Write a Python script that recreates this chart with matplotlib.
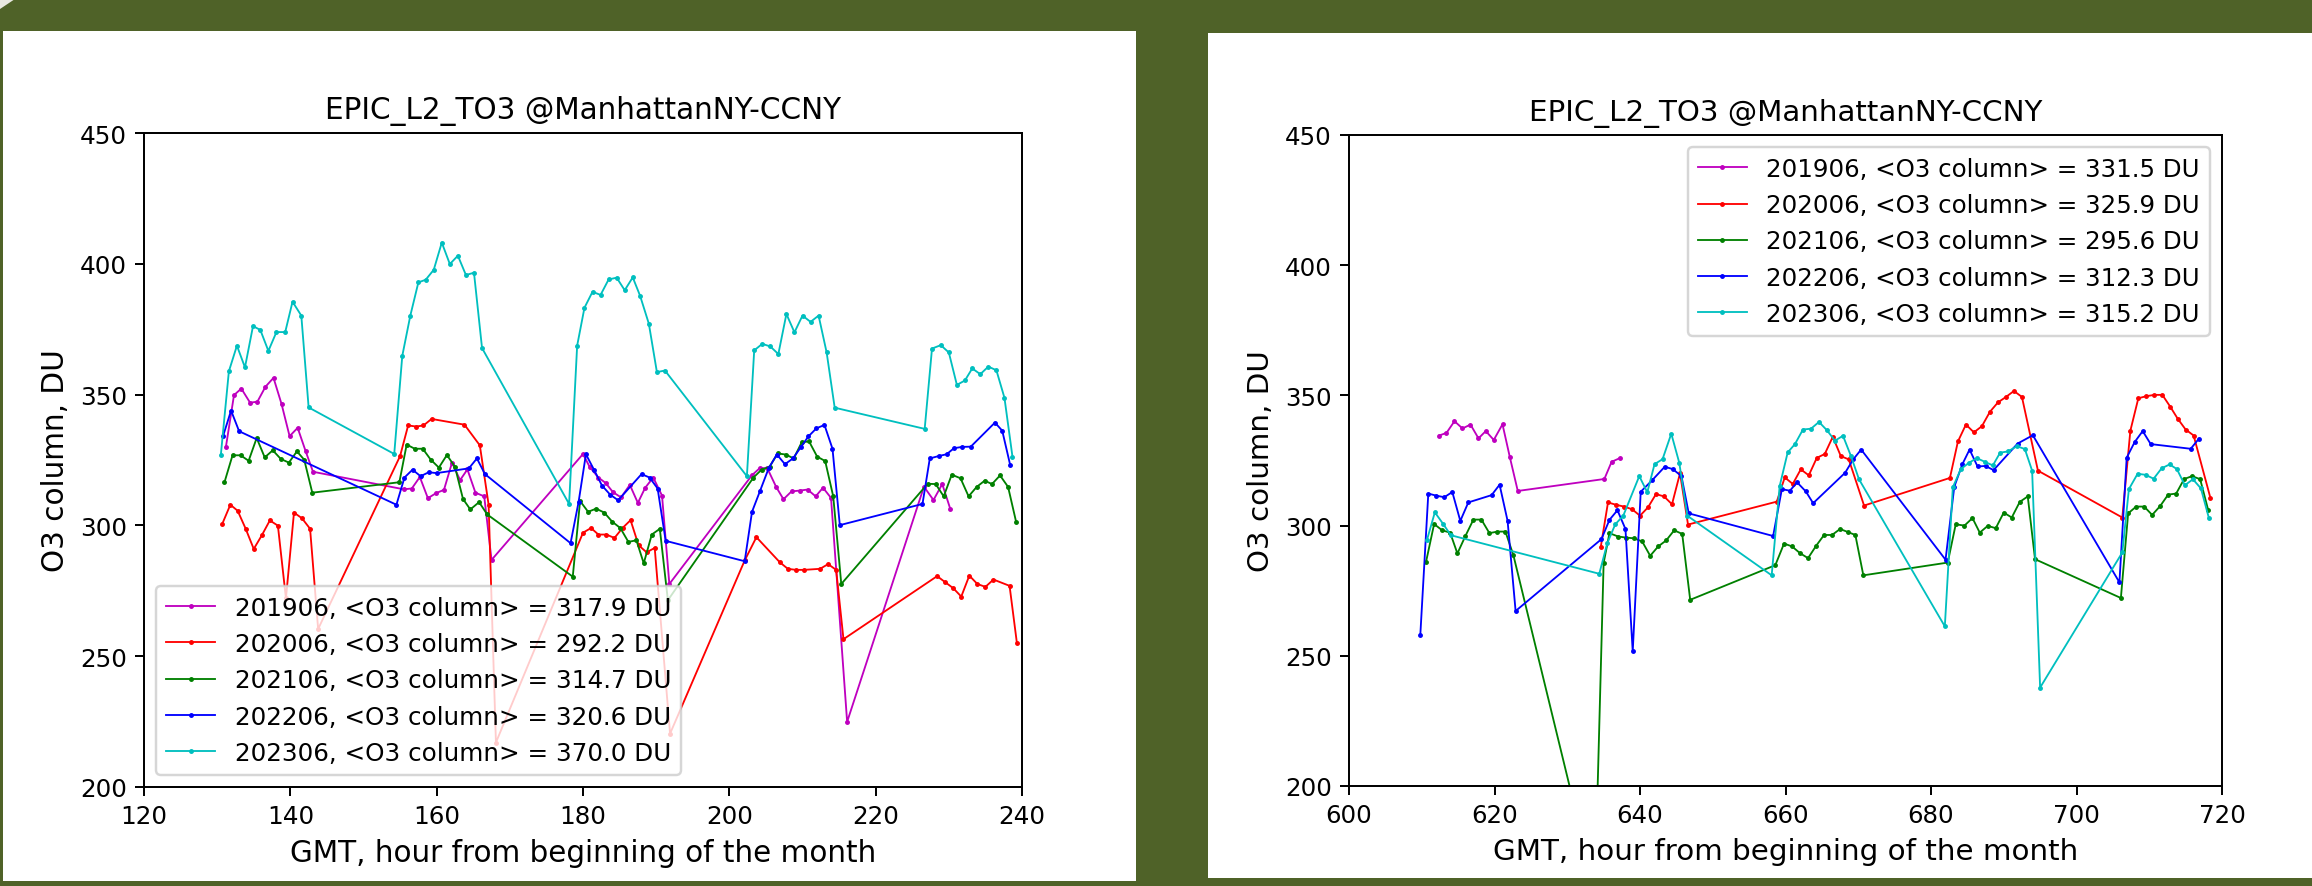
"""
EPIC_L2_TO3 total ozone at ManhattanNY-CCNY, two June slices on a slide
"""

import matplotlib
matplotlib.use("Agg")
from matplotlib import pyplot as plt
from matplotlib.patches import Rectangle, Polygon

# ---- left plot: hours 120-240 ----
hours_201906_a = [131.2, 132.3, 133.3, 134.5, 135.5, 136.6, 137.7, 138.8, 139.9, 141.0, 142.1, 143.1,
                  155.5, 156.6, 157.7, 158.8, 159.9, 161.0, 162.1, 163.2, 164.2, 165.3, 166.5, 167.5,
                  180.0, 180.9, 182.1, 183.1, 184.1, 185.2, 186.4, 187.5, 188.5, 189.6, 190.8, 191.8,
                  203.1, 204.2, 205.2, 206.4, 207.4, 208.5, 209.6, 210.7, 211.8, 212.8, 213.9, 216.1,
                  226.6, 227.9, 229.1, 230.2]
o3_201906_a = [330.1, 349.8, 352.3, 346.9, 347.3, 353.0, 356.4, 346.4, 334.1, 337.3, 328.3, 320.5,
               313.8, 314.1, 318.5, 310.4, 312.3, 313.6, 324.0, 317.3, 321.4, 312.5, 311.1, 286.8,
               327.3, 322.4, 318.3, 316.2, 312.7, 310.7, 315.5, 308.6, 314.4, 318.3, 311.4, 277.6,
               319.2, 322.0, 321.8, 314.7, 310.0, 313.0, 313.3, 313.7, 311.1, 314.4, 310.5, 224.9,
               314.8, 309.7, 315.8, 306.3]

hours_202006_a = [130.7, 131.8, 132.8, 133.9, 135.0, 136.1, 137.2, 138.3, 139.4, 140.5, 141.6, 142.7, 143.8,
                  155.0, 156.1, 157.2, 158.2, 159.3, 163.8, 165.9, 167.1, 168.1,
                  180.0, 181.1, 182.1, 183.2, 184.3, 185.4, 186.5, 187.6, 188.7, 189.8, 191.9,
                  202.1, 203.7, 206.9, 208.0, 209.1, 210.2, 212.4, 213.5, 214.6, 215.6,
                  228.4, 229.5, 230.6, 231.7, 232.8, 233.9, 235.0, 236.1, 238.3, 239.3]
o3_202006_a = [300.6, 307.9, 305.6, 298.7, 291.0, 296.2, 301.9, 299.9, 272.1, 304.9, 302.7, 298.7, 260.4,
               326.5, 338.2, 337.8, 338.2, 340.7, 338.5, 330.6, 307.9, 217.0,
               297.2, 299.0, 296.5, 296.5, 295.2, 299.0, 302.0, 292.4, 289.7, 291.4, 220.4,
               286.6, 295.5, 285.9, 283.4, 283.0, 283.0, 283.4, 285.2, 283.0, 256.5,
               280.6, 278.3, 276.0, 272.8, 280.8, 277.6, 276.5, 279.3, 276.9, 255.1]

hours_202106_a = [131.0, 132.1, 133.2, 134.3, 135.4, 136.5, 137.6, 138.7, 139.8, 140.9, 141.9, 143.0,
                  154.9, 155.9, 157.0, 158.1, 159.2, 160.3, 161.4, 162.5, 163.6, 164.6, 165.8, 166.9,
                  178.6, 179.6, 180.7, 181.8, 182.9, 184.0, 185.1, 186.2, 187.3, 188.3, 189.4, 190.5, 191.6,
                  203.3, 204.4, 205.5, 206.6, 207.7, 208.8, 209.9, 210.9, 212.0, 213.1, 214.2, 215.3,
                  227.1, 228.2, 229.3, 230.4, 231.6, 232.7, 233.8, 234.9, 235.9, 237.0, 238.1, 239.2]
o3_202106_a = [316.5, 326.8, 326.8, 324.7, 333.4, 326.0, 328.7, 325.4, 324.0, 328.3, 325.1, 312.5,
               316.5, 330.9, 329.3, 329.3, 325.1, 322.1, 326.9, 322.4, 310.1, 306.1, 308.9, 304.2,
               280.4, 309.3, 305.2, 306.4, 304.9, 301.4, 299.0, 293.7, 294.3, 285.5, 296.5, 298.7, 271.4,
               318.3, 321.3, 322.4, 327.5, 327.1, 325.6, 331.8, 332.1, 326.3, 324.6, 311.1, 277.6,
               315.9, 315.8, 311.1, 319.4, 318.0, 311.1, 314.7, 317.1, 315.8, 319.1, 314.7, 301.3]

hours_202206_a = [130.8, 131.9, 133.0,
                  154.5, 155.6, 156.7, 157.8, 158.9, 160.0, 164.4, 165.5, 166.6,
                  178.3, 179.4, 180.4, 181.5, 182.6, 183.7, 184.8, 188.0, 189.1, 190.2, 191.3,
                  202.1, 203.1, 204.2, 205.4, 206.5, 207.6, 208.7, 209.8, 210.8, 211.9, 213.0, 214.1, 215.1,
                  226.4, 227.4, 228.6, 229.7, 230.7, 231.8, 233.0, 236.3, 237.3, 238.4]
o3_202206_a = [334.1, 343.9, 336.0,
               307.9, 318.3, 321.3, 318.8, 320.3, 320.0, 321.8, 325.6, 319.6,
               293.2, 309.0, 327.2, 321.3, 315.2, 311.8, 309.6, 319.6, 318.3, 314.1, 294.1,
               286.3, 305.2, 313.2, 322.0, 327.1, 323.4, 325.6, 330.0, 334.0, 337.1, 338.4, 329.3, 300.1,
               308.2, 325.6, 326.5, 327.2, 329.5, 330.0, 330.1, 339.3, 336.2, 322.9]

hours_202306_a = [130.5, 131.6, 132.7, 133.8, 134.9, 135.9, 137.0, 138.1, 139.3, 140.3, 141.5, 142.5,
                  154.2, 155.3, 156.4, 157.5, 158.5, 159.6, 160.7, 161.8, 162.9, 164.0, 165.1, 166.2,
                  178.1, 179.2, 180.2, 181.3, 182.4, 183.5, 184.6, 185.7, 186.8, 187.8, 189.0, 190.1, 191.2,
                  202.4, 203.4, 204.5, 205.6, 206.7, 207.8, 208.9, 210.0, 211.1, 212.2, 213.3, 214.4,
                  226.7, 227.7, 228.9, 230.0, 231.1, 232.2, 233.2, 234.3, 235.4, 236.5, 237.6, 238.7]
o3_202306_a = [326.9, 358.9, 368.7, 360.4, 376.2, 374.7, 366.7, 373.9, 373.9, 385.5, 380.2, 345.1,
               327.3, 364.8, 380.2, 392.9, 393.9, 397.7, 408.1, 399.9, 403.1, 395.7, 396.6, 367.8,
               308.2, 368.7, 383.2, 389.3, 388.1, 394.0, 394.7, 389.9, 394.8, 387.8, 377.1, 358.6, 359.2,
               318.8, 366.9, 369.4, 368.4, 365.5, 380.8, 373.8, 380.2, 377.8, 380.2, 366.1, 345.0,
               336.9, 367.6, 368.9, 366.1, 353.7, 355.4, 360.0, 357.8, 360.7, 359.3, 348.8, 326.2]

means_a = ["317.9", "292.2", "314.7", "320.6", "370.0"]

# ---- right plot: hours 600-720 ----
hours_201906_b = [612.4, 613.4, 614.5, 615.6, 616.7, 617.8, 618.8, 619.9, 621.1, 622.1, 623.2,
                  635.1, 636.1, 637.3]
o3_201906_b = [334.6, 335.6, 340.1, 337.3, 338.8, 333.5, 336.3, 332.9, 338.9, 326.4, 313.3,
               317.9, 324.5, 326.0]

hours_202006_b = [634.6, 635.6, 636.7, 637.8, 638.9, 640.0, 641.1, 642.2, 643.3, 644.4, 645.5, 646.6,
                  658.8, 659.9, 661.0, 662.1, 663.2, 664.3, 665.4, 666.5, 667.6, 668.7, 670.8,
                  682.6, 683.7, 684.8, 685.9, 687.0, 688.1, 689.2, 690.3, 691.4, 692.5, 694.7,
                  706.3, 707.4, 708.5, 709.6, 710.7, 711.8, 712.9, 713.9, 715.0, 716.1, 718.4]
o3_202006_b = [291.7, 308.9, 308.0, 307.3, 306.3, 303.8, 307.0, 312.1, 311.2, 308.2, 320.1, 300.4,
               309.2, 318.5, 316.0, 321.6, 319.3, 326.0, 327.5, 334.1, 326.7, 325.4, 307.7,
               318.3, 332.3, 338.8, 335.8, 338.2, 343.7, 347.3, 349.4, 351.7, 349.4, 321.1,
               303.1, 336.4, 348.9, 349.7, 350.2, 350.2, 345.6, 341.1, 336.9, 334.6, 310.7]

hours_202106_b = [610.6, 611.7, 612.8, 613.9, 614.9, 616.0, 617.1, 618.2, 619.3, 620.4, 621.5, 622.6,
                  633.8,
                  635.0, 635.8, 637.0, 638.1, 639.2, 640.3, 641.4, 642.5, 643.6, 644.7, 645.8, 646.9,
                  658.6, 659.8, 660.9, 662.0, 663.1, 664.2, 665.3, 666.4, 667.5, 668.6, 669.6, 670.7,
                  682.3, 683.4, 684.6, 685.7, 686.7, 687.8, 688.9, 690.0, 691.1, 692.2, 693.3, 694.3,
                  706.1, 707.1, 708.2, 709.3, 710.4, 711.5, 712.6, 713.7, 714.8, 715.9, 717.0, 718.1]
o3_202106_b = [286.2, 300.6, 298.2, 297.3, 289.3, 296.0, 302.3, 302.3, 297.1, 297.7, 297.7, 288.6,
               160.0,
               285.6, 297.1, 295.8, 295.4, 295.1, 293.9, 288.4, 292.0, 294.3, 298.2, 296.8, 271.5,
               284.8, 293.1, 292.0, 289.4, 287.5, 292.2, 296.4, 296.4, 298.7, 297.5, 296.4, 280.9,
               285.8, 300.5, 300.0, 302.9, 297.3, 299.9, 299.0, 305.0, 303.1, 309.1, 311.2, 287.1,
               272.2, 304.7, 307.3, 307.3, 304.1, 307.5, 311.9, 312.3, 317.9, 319.0, 317.8, 306.0]

hours_202206_b = [609.8, 610.9, 612.0, 613.1, 614.2, 615.3, 616.4, 619.6, 620.7, 621.8, 622.9,
                  634.7, 635.8, 636.9, 638.0, 639.0, 640.1, 641.7, 643.4, 644.5, 645.7, 646.7,
                  658.3, 659.5, 660.6, 661.6, 662.8, 663.8, 668.2, 669.3, 670.4,
                  682.0, 683.2, 684.3, 685.3, 686.4, 687.5, 688.6, 691.9, 694.0,
                  705.9, 706.9, 708.0, 709.1, 710.2, 715.7, 716.8]
o3_202206_b = [257.9, 312.3, 311.5, 310.9, 312.9, 301.8, 308.9, 311.7, 315.7, 301.8, 267.2,
               294.8, 302.2, 305.9, 298.7, 251.7, 313.0, 317.5, 322.6, 321.7, 319.0, 304.7,
               296.0, 314.0, 313.4, 316.6, 313.1, 308.6, 320.3, 325.4, 329.2,
               286.9, 314.9, 323.5, 329.2, 322.7, 322.9, 321.3, 331.5, 334.7,
               278.2, 326.1, 332.1, 336.3, 331.3, 329.5, 333.3]

hours_202306_b = [610.7, 611.8, 612.9, 614.0,
                  634.4, 635.5, 636.6, 637.7, 639.9, 641.0, 642.0, 643.1, 644.3, 645.4, 646.5,
                  658.1, 659.2, 660.3, 661.3, 662.4, 663.5, 664.6, 665.7, 666.8, 667.9, 669.0, 670.1,
                  681.9, 683.0, 684.1, 685.2, 686.3, 687.4, 688.5, 689.5, 690.6, 691.8, 692.9, 693.9, 695.0,
                  706.3, 707.2, 708.4, 709.5, 710.6, 711.7, 712.8, 713.8, 714.9, 716.0, 717.1, 718.2]
o3_202306_b = [294.3, 305.1, 300.8, 296.3,
               281.5, 293.2, 300.5, 303.8, 319.0, 312.8, 323.6, 325.5, 335.3, 324.1, 303.8,
               280.9, 315.2, 328.1, 331.3, 336.9, 337.2, 339.8, 336.6, 332.6, 334.5, 326.7, 317.8,
               261.3, 314.7, 321.7, 324.1, 325.9, 324.5, 323.1, 328.0, 328.5, 330.5, 329.4, 321.1, 237.8,
               289.7, 314.0, 319.9, 319.5, 318.0, 322.0, 323.5, 321.7, 315.5, 317.8, 314.3, 302.9]

means_b = ["331.5", "325.9", "295.6", "312.3", "315.2"]

months = ["201906", "202006", "202106", "202206", "202306"]
colors = ["m", "r", "g", "b", "c"]
y_ticks = [200, 250, 300, 350, 400, 450]

W, H = 2312, 887
GREEN = "#4f6228"


def fig_box(x0, y0, x1, y1):
    # pixel box (top-left origin) -> figure fraction rect
    return [x0 / W, 1 - y1 / H, (x1 - x0) / W, (y1 - y0) / H]


def draw_panel(ax, series, means, xlim, loc, s):
    # s = how much the original 640x480 plot was blown up
    for (x, y), c, m, mean in zip(series, colors, months, means):
        ax.plot(x, y, color=c, marker=".", ms=2.0 * s, mew=1.0 * s, lw=0.75 * s,
                label="%s, <O3 column> = %s DU" % (m, mean))
    ax.set_xlim(xlim)
    ax.set_ylim(200, 450)
    ax.set_yticks(y_ticks)
    ax.set_title("EPIC_L2_TO3 @ManhattanNY-CCNY", fontsize=12 * s, pad=6 * s)
    ax.set_xlabel("GMT, hour from beginning of the month", fontsize=12 * s, labelpad=4 * s)
    ax.set_ylabel("O3 column, DU", fontsize=12 * s, labelpad=4 * s)
    ax.tick_params(labelsize=10 * s, length=3.5 * s, width=0.8 * s, pad=3.5 * s)
    for sp in ax.spines.values():
        sp.set_linewidth(0.8 * s)
    leg = ax.legend(loc=loc, fontsize=10 * s)
    leg.get_frame().set_linewidth(1.0 * s)


fig = plt.figure(figsize=(W / 100, H / 100), dpi=100, facecolor=GREEN)

# white slide boxes behind each plot
fig.add_artist(Rectangle(fig_box(3, 32, 1136, 882)[:2], 1133 / W, 850 / H,
                         transform=fig.transFigure, facecolor="white", edgecolor="none", zorder=0))
fig.add_artist(Rectangle(fig_box(1208, 34, 2312, 879)[:2], 1104 / W, 845 / H,
                         transform=fig.transFigure, facecolor="white", edgecolor="none", zorder=0))
fig.add_artist(Polygon([[0, 1], [15 / W, 1], [0, 1 - 10 / H]], closed=True,
                       transform=fig.transFigure, facecolor="#e8e8e0", edgecolor="none", zorder=0))

ax1 = fig.add_axes(fig_box(144, 134, 1022, 788))
draw_panel(ax1,
           [(hours_201906_a, o3_201906_a), (hours_202006_a, o3_202006_a),
            (hours_202106_a, o3_202106_a), (hours_202206_a, o3_202206_a),
            (hours_202306_a, o3_202306_a)],
           means_a, (120, 240), "lower left", 1.77)

ax2 = fig.add_axes(fig_box(1349, 136, 2222, 787))
draw_panel(ax2,
           [(hours_201906_b, o3_201906_b), (hours_202006_b, o3_202006_b),
            (hours_202106_b, o3_202106_b), (hours_202206_b, o3_202206_b),
            (hours_202306_b, o3_202306_b)],
           means_b, (600, 720), "upper right", 1.762)

fig.savefig("out.png", dpi=100, facecolor=GREEN)
